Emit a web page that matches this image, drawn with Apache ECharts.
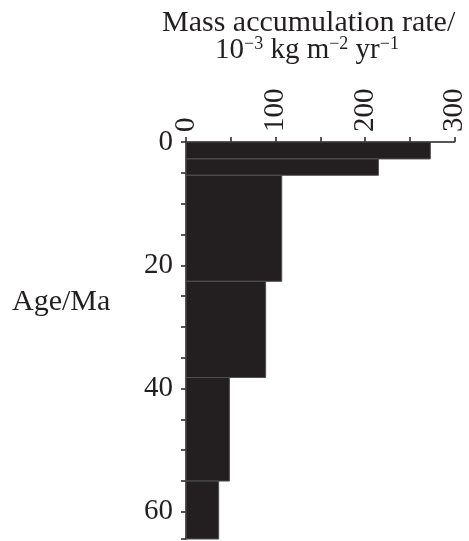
<!DOCTYPE html>
<html>
<head>
<meta charset="utf-8">
<script src="https://cdn.jsdelivr.net/npm/echarts@6/dist/echarts.min.js"></script>
<style>
  html, body { margin: 0; padding: 0; background: #fff; }
  #chart { width: 469px; height: 541px; }
</style>
</head>
<body>
<div id="chart"></div>
<script>
// Age intervals (Ma) and mass accumulation rate per interval (10^-3 kg m^-2 yr^-1)
const ageTop    = [0,   2.75, 5.4,  22.6, 38.2, 55.0];
const ageBottom = [2.75, 5.4, 22.6, 38.2, 55.0, 64.4];
const rates     = [273, 215,  107,  89,   48.5, 36.5];

const rateTicks = [0, 100, 200, 300];
const ageTicks  = [0, 20, 40, 60];

const INK = '#231f20';
const SERIF = "'Liberation Serif', 'Times New Roman', serif";

const chart = echarts.init(document.getElementById('chart'), null, { renderer: 'canvas' });

const data = rates.map((r, i) => [ageTop[i], ageBottom[i], r]);

chart.setOption({
  animation: false,
  backgroundColor: '#fff',
  grid: { left: 186, right: 9, top: 142, bottom: 2, containLabel: false },
  xAxis: {
    type: 'value',
    position: 'top',
    min: 0,
    max: 300,
    interval: 50,
    axisLine: { show: true, lineStyle: { color: INK, width: 1.5 } },
    axisTick: { show: true, length: 5, lineStyle: { color: INK, width: 1.5 } },
    splitLine: { show: false },
    axisLabel: {
      rotate: 90,
      margin: 10,
      color: INK,
      fontFamily: SERIF,
      fontSize: 29,
      formatter: v => (rateTicks.indexOf(v) >= 0 ? String(v) : '')
    }
  },
  yAxis: {
    type: 'value',
    inverse: true,
    min: 0,
    max: 64.4,
    interval: 5,
    axisLine: { show: true, lineStyle: { color: INK, width: 1.5 } },
    axisTick: { show: true, length: 5, lineStyle: { color: INK, width: 1.5 } },
    splitLine: { show: false },
    axisLabel: {
      margin: 13,
      color: INK,
      fontFamily: SERIF,
      fontSize: 29,
      formatter: v => (ageTicks.indexOf(v) >= 0 ? String(v) : '')
    }
  },
  graphic: [
    {
      type: 'text',
      left: 162,
      top: 8,
      style: {
        text: 'Mass accumulation rate/',
        font: '30px ' + SERIF,
        fill: INK
      }
    },
    {
      type: 'text',
      left: 215,
      top: 35,
      style: {
        text: '{n|10}{s|−3}{n| kg m}{s|−2}{n| yr}{s|−1}',
        fill: INK,
        rich: {
          n: { fontFamily: SERIF, fontSize: 29, color: INK, lineHeight: 31, verticalAlign: 'bottom' },
          s: { fontFamily: SERIF, fontSize: 18, color: INK, lineHeight: 31, verticalAlign: 'bottom', padding: [0, 0, 12, 0] }
        }
      }
    },
    {
      type: 'text',
      left: 12,
      top: 287,
      style: {
        text: 'Age/Ma',
        font: '30px ' + SERIF,
        fill: INK
      }
    }
  ],
  series: [{
    type: 'custom',
    coordinateSystem: 'cartesian2d',
    encode: { x: 2, y: [0, 1] },
    data: data,
    renderItem: function (params, api) {
      const p0 = api.coord([0, api.value(0)]);
      const p1 = api.coord([api.value(2), api.value(1)]);
      return {
        type: 'rect',
        shape: { x: p0[0], y: p0[1], width: p1[0] - p0[0], height: p1[1] - p0[1] },
        style: { fill: INK, stroke: '#505052', lineWidth: 1 }
      };
    }
  }]
});
</script>
</body>
</html>
